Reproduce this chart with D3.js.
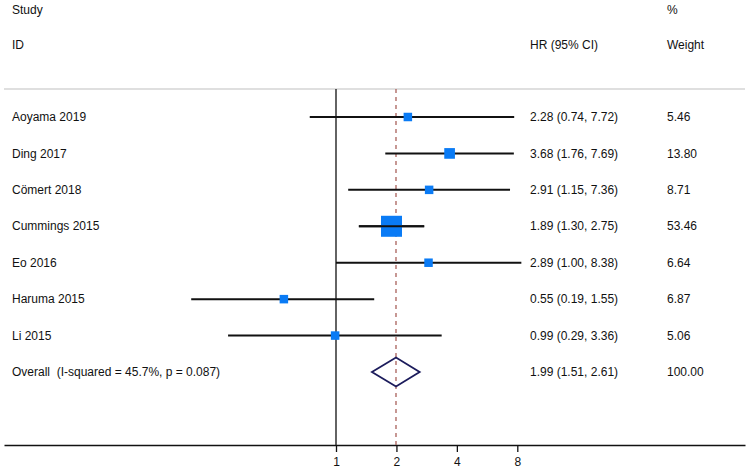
<!DOCTYPE html>
<html>
<head>
<meta charset="utf-8">
<script src="https://cdn.jsdelivr.net/npm/d3@7"></script>
<style>
  body { margin: 0; background: #fff; }
  text { font-family: "Liberation Sans", Arial, sans-serif; font-size: 12px; fill: #111; }
</style>
</head>
<body>
<svg width="750" height="472"></svg>
<script>
const studies = ["Aoyama 2019", "Ding 2017", "Cömert 2018", "Cummings 2015", "Eo 2016", "Haruma 2015", "Li 2015"];
const hr = [2.28, 3.68, 2.91, 1.89, 2.89, 0.55, 0.99];
const lower = [0.74, 1.76, 1.15, 1.30, 1.00, 0.19, 0.29];
const upper = [7.72, 7.69, 7.36, 2.75, 8.38, 1.55, 3.36];
const weights = [5.46, 13.80, 8.71, 53.46, 6.64, 6.87, 5.06];
const overall = { label: "Overall  (I-squared = 45.7%, p = 0.087)", hr: 1.99, lo: 1.51, hi: 2.61, w: 100.00 };
const tickValues = [1, 2, 4, 8];

const svg = d3.select("svg");
const fmt = d3.format(".2f");

const x = d3.scaleLog().domain([1, 8]).range([336, 517.3]);
const rows = studies.concat([overall.label]);
const y = d3.scalePoint().domain(rows).range([117, 372]);
const size = d3.scaleSqrt().domain([0, d3.max(weights)]).range([0, 21]);

const plotTop = 89, plotBottom = 445;

// header
svg.append("text").attr("x", 12).attr("y", 10).attr("dy", "0.35em").text("Study");
svg.append("text").attr("x", 12).attr("y", 45).attr("dy", "0.35em").text("ID");
svg.append("text").attr("x", 530).attr("y", 45).attr("dy", "0.35em").text("HR (95% CI)");
svg.append("text").attr("x", 667).attr("y", 10).attr("dy", "0.35em").text("%");
svg.append("text").attr("x", 667).attr("y", 45).attr("dy", "0.35em").text("Weight");

// faint separator
svg.append("line")
  .attr("x1", 4).attr("x2", 745).attr("y1", plotTop).attr("y2", plotTop)
  .attr("stroke", "#d4d4d4").attr("stroke-width", 1.5);

// bottom axis spanning full width
const xa = x.copy().domain([x.invert(4), x.invert(745)]).range([4, 745]);
const axis = svg.append("g")
  .attr("transform", `translate(0,${plotBottom})`)
  .call(d3.axisBottom(xa).tickValues(tickValues).tickSize(7).tickSizeOuter(0).tickFormat(d3.format("d")));
axis.select(".domain").attr("stroke", "#111").attr("stroke-width", 1.3);
axis.selectAll(".tick line").attr("stroke", "#111").attr("stroke-width", 1.3);
axis.selectAll(".tick text").attr("y", 12).attr("dy", "0.71em")
  .style("font-family", "'Liberation Sans', Arial, sans-serif").style("font-size", "12px").style("fill", "#111");

// null line
svg.append("line")
  .attr("x1", x(1)).attr("x2", x(1)).attr("y1", plotTop).attr("y2", plotBottom)
  .attr("stroke", "#222").attr("stroke-width", 1.4);

// overall dashed line
svg.append("line")
  .attr("x1", x(overall.hr)).attr("x2", x(overall.hr)).attr("y1", plotTop).attr("y2", plotBottom)
  .attr("stroke", "#a9605a").attr("stroke-width", 1.3).attr("stroke-dasharray", "4,4");

const data = studies.map((s, i) => ({ s, hr: hr[i], lo: lower[i], hi: upper[i], w: weights[i] }));

// CI lines
svg.selectAll(".ci")
  .data(data)
  .enter()
  .append("line")
  .attr("class", "ci")
  .attr("x1", (d) => x(d.lo))
  .attr("x2", (d) => x(d.hi))
  .attr("y1", (d) => y(d.s))
  .attr("y2", (d) => y(d.s))
  .attr("stroke", "#111")
  .attr("stroke-width", 2);

// weight boxes
const side = (d) => Math.max(size(d.w), 8.5);
svg.selectAll(".box")
  .data(data)
  .enter()
  .append("rect")
  .attr("class", "box")
  .attr("x", (d) => x(d.hr) - side(d) / 2)
  .attr("y", (d) => y(d.s) - side(d) / 2)
  .attr("width", side)
  .attr("height", side)
  .attr("fill", "#0a7bf5");

// line shows through the big boxes
svg.selectAll(".ci2")
  .data(data.filter((d) => size(d.w) > 11))
  .enter()
  .append("line")
  .attr("x1", (d) => x(d.lo))
  .attr("x2", (d) => x(d.hi))
  .attr("y1", (d) => y(d.s))
  .attr("y2", (d) => y(d.s))
  .attr("stroke", "#111")
  .attr("stroke-width", 2);

// diamond
const yo = y(overall.label);
svg.append("path")
  .attr("d", `M${x(overall.lo)},${yo}L${x(overall.hr)},${yo - 14.5}L${x(overall.hi)},${yo}L${x(overall.hr)},${yo + 14.5}Z`)
  .attr("fill", "none")
  .attr("stroke", "#1c1c5c")
  .attr("stroke-width", 1.8);

// labels
svg.selectAll(".lab")
  .data(rows)
  .enter()
  .append("text")
  .attr("x", 12)
  .attr("y", (d) => y(d))
  .attr("dy", "0.35em")
  .style("white-space", "pre")
  .text((d) => d);

const est = data.map((d) => [d.s, d.hr, d.lo, d.hi, d.w]).concat([[overall.label, overall.hr, overall.lo, overall.hi, overall.w]]);
svg.selectAll(".est")
  .data(est)
  .enter()
  .append("text")
  .attr("x", 530)
  .attr("y", (d) => y(d[0]))
  .attr("dy", "0.35em")
  .text((d) => `${fmt(d[1])} (${fmt(d[2])}, ${fmt(d[3])})`);

svg.selectAll(".wt")
  .data(est)
  .enter()
  .append("text")
  .attr("x", 667)
  .attr("y", (d) => y(d[0]))
  .attr("dy", "0.35em")
  .text((d) => fmt(d[4]));
</script>
</body>
</html>
